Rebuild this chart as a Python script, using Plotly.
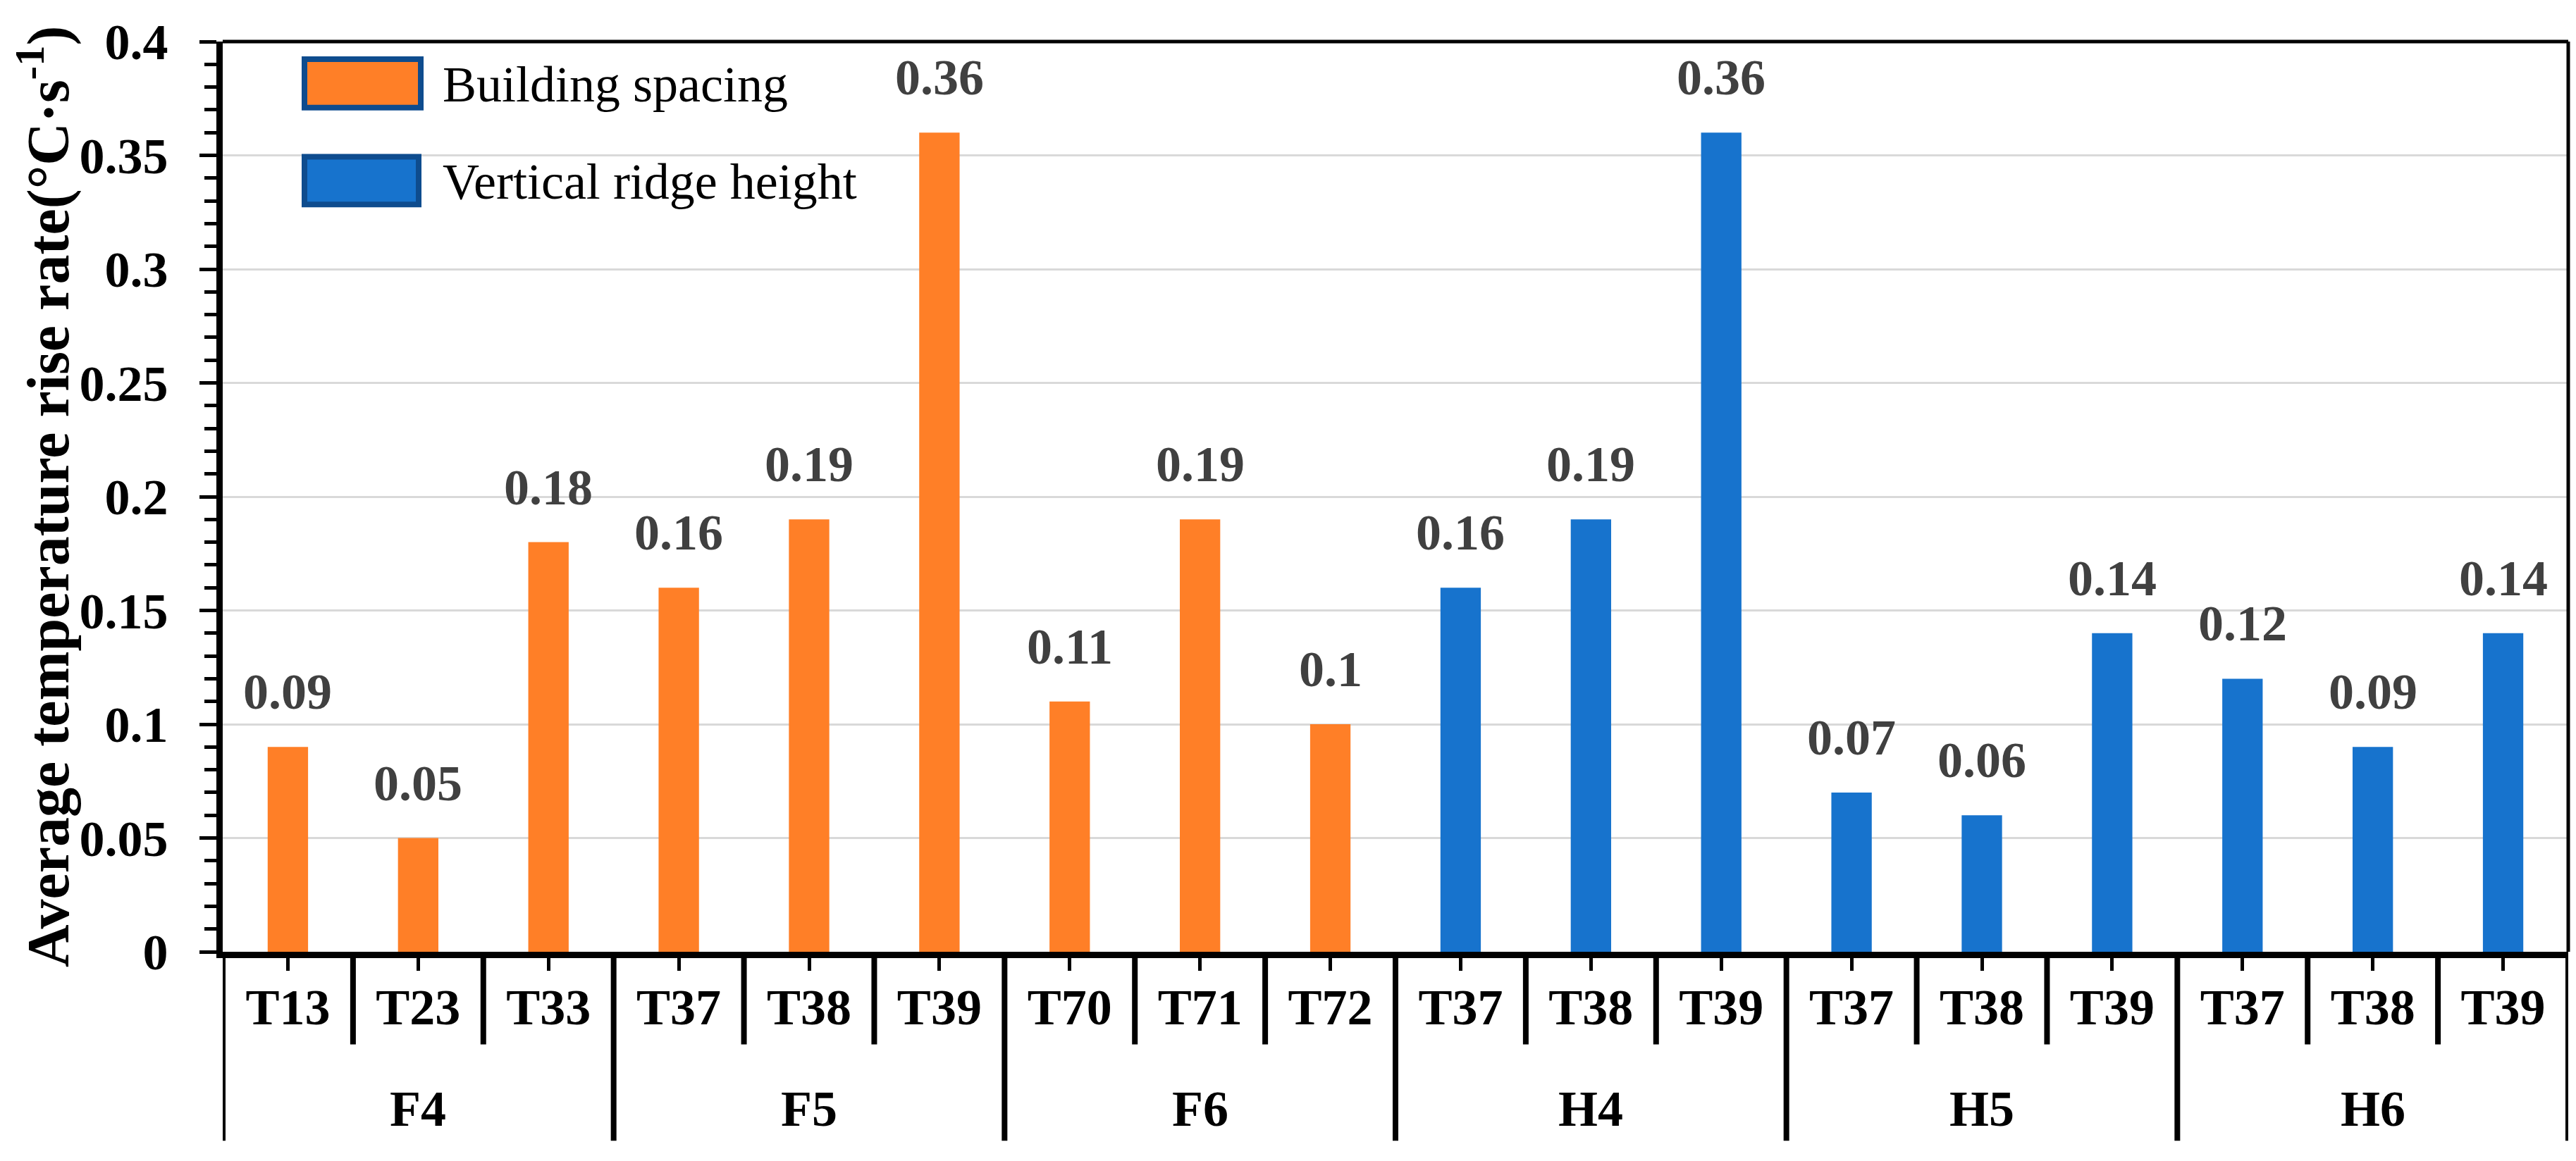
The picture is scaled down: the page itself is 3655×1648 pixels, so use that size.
import plotly.graph_objects as go

# ---------------- data ----------------
group_names = ["F4", "F5", "F6", "H4", "H5", "H6"]
sub_labels = ["T13", "T23", "T33", "T37", "T38", "T39", "T70", "T71", "T72",
              "T37", "T38", "T39", "T37", "T38", "T39", "T37", "T38", "T39"]
spacing_values = [0.09, 0.05, 0.18, 0.16, 0.19, 0.36, 0.11, 0.19, 0.10]
ridge_values = [0.16, 0.19, 0.36, 0.07, 0.06, 0.14, 0.12, 0.09, 0.14]
series_names = ["Building spacing", "Vertical ridge height"]
y_ticks = [0, 0.05, 0.1, 0.15, 0.2, 0.25, 0.3, 0.35, 0.4]
y_tick_text = ["0", "0.05", "0.1", "0.15", "0.2", "0.25", "0.3", "0.35", "0.4"]
y_title = "Average temperature rise rate(°C·s<sup>-1</sup>)"

# ---------------- styling ----------------
ORANGE = "#FF7F27"
BLUE = "#1773CD"
EDGE = "#0E4C8E"
FONT = "Times New Roman, Liberation Serif, DejaVu Serif, serif"
FS = 72
W, H = 3655, 1648
ML, MR, MT, MB = 308, 19, 47, 305
PW, PH = W - ML - MR, H - MT - MB

per_group = len(sub_labels) // len(group_names)
groups = [g for g in group_names for _ in range(per_group)]
cats = [f"{g}-{t}" for g, t in zip(groups, sub_labels)]
n_sp = len(spacing_values)


def px_x(px):
    return (px - ML) / PW


def px_y(py):
    return (H - MB - py) / PH


fig = go.Figure()
fig.add_trace(go.Bar(x=cats[:n_sp], y=spacing_values, name=series_names[0],
                     marker=dict(color=ORANGE, line=dict(width=0)), width=0.31))
fig.add_trace(go.Bar(x=cats[n_sp:], y=ridge_values, name=series_names[1],
                     marker=dict(color=BLUE, line=dict(width=0)), width=0.31))

annotations = []
# data labels
for c, v in zip(cats, spacing_values + ridge_values):
    annotations.append(dict(x=c, y=v, xref="x", yref="y", text=f"{v:g}",
                            showarrow=False, yanchor="bottom", yshift=36,
                            font=dict(family=FONT, size=FS, color="#404040",
                                      weight="bold")))
# group labels
for gi, g in enumerate(group_names):
    mid = cats[gi * per_group + per_group // 2]
    annotations.append(dict(x=mid, y=px_y(1567), xref="x", yref="paper", text=g,
                            showarrow=False, yanchor="middle",
                            font=dict(family=FONT, size=FS, color="black",
                                      weight="bold")))
# y title
annotations.append(dict(x=px_x(55), y=0.5, xref="paper", yref="paper",
                        text=y_title, textangle=-90, showarrow=False,
                        xanchor="center", yanchor="middle",
                        font=dict(family=FONT, size=84, color="black",
                                  weight="bold")))
# manual legend
legend_boxes = [(420, 68, 593, 145), (420, 207, 590, 283)]
legend_colors = [ORANGE, BLUE]
shapes = []
for (x0, y0, x1, y1), col, name in zip(legend_boxes, legend_colors, series_names):
    shapes.append(dict(type="rect", xref="paper", yref="paper",
                       x0=px_x(x0 + 4), x1=px_x(x1 - 4), y0=px_y(y1 - 4), y1=px_y(y0 + 4),
                       fillcolor=col, line=dict(color=EDGE, width=8), layer="above"))
    annotations.append(dict(x=px_x(618), y=px_y((y0 + y1) / 2 + 2), xref="paper", yref="paper",
                            text=name, showarrow=False, xanchor="left", yanchor="middle",
                            font=dict(family=FONT, size=FS, color="black")))

# dividers below the x axis
inner_bottom = px_y(1475)
group_bottom = px_y(1612)
n = len(cats)
for k in range(n + 1):
    is_group = (k % per_group == 0)
    shapes.append(dict(type="line", xref="x", yref="paper",
                       x0=k - 0.5, x1=k - 0.5, y0=0,
                       y1=group_bottom if is_group else inner_bottom,
                       line=dict(color="black", width=8)))
# top & right frame
shapes.append(dict(type="line", xref="paper", yref="paper", x0=0, x1=1, y0=1, y1=1,
                   line=dict(color="black", width=5)))
shapes.append(dict(type="line", xref="paper", yref="paper", x0=1, x1=1, y0=0, y1=1,
                   line=dict(color="black", width=5)))

fig.update_layout(
    width=W, height=H,
    margin=dict(l=ML, r=MR, t=MT, b=MB, pad=0),
    paper_bgcolor="white", plot_bgcolor="white",
    barmode="overlay", showlegend=False,
    font=dict(family=FONT, size=FS, color="black"),
    annotations=annotations, shapes=shapes,
    xaxis=dict(type="category", categoryorder="array", categoryarray=cats,
               range=[-0.5, n - 0.5],
               tickmode="array", tickvals=cats, ticktext=sub_labels,
               ticks="outside", ticklen=18, tickwidth=5, tickcolor="black",
               ticklabelstandoff=-10,
               tickfont=dict(family=FONT, size=FS, color="black", weight="bold"),
               showline=True, linewidth=9, linecolor="black", showgrid=False,
               zeroline=False),
    yaxis=dict(range=[0, 0.4], tickmode="array", tickvals=y_ticks, ticktext=y_tick_text,
               ticks="outside", ticklen=24, tickwidth=5, tickcolor="black",
               ticklabelstandoff=30,
               tickfont=dict(family=FONT, size=FS, color="black", weight="bold"),
               showline=True, linewidth=9, linecolor="black",
               showgrid=True, gridcolor="#D9D9D9", gridwidth=3, zeroline=False,
               minor=dict(dtick=0.01, tick0=0, ticks="outside", ticklen=17,
                          tickwidth=5, tickcolor="black", showgrid=False)),
)

fig.write_html("out.html")
